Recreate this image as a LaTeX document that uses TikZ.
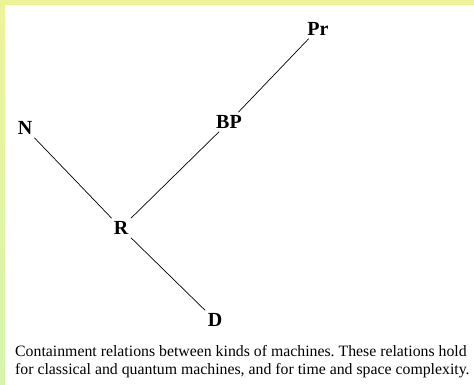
\documentclass[tikz,border=0pt]{standalone}
\usepackage{fontspec}
\setmainfont{Liberation Serif}
\frenchspacing
\definecolor{bandyellow}{RGB}{238,243,150}
\definecolor{bandgreen}{RGB}{212,246,170}
\begin{document}
\begin{tikzpicture}[x=1pt,y=1pt]
\useasboundingbox (0,0) rectangle (474,385);
\fill [bandyellow] (0,380) rectangle (474,385);
\shade [top color=bandyellow, bottom color=bandgreen] (0,0) rectangle (5,380);
\node [font=\fontsize{20}{24}\selectfont\bfseries, inner sep=3pt] (Pr) at (318,356) {Pr};
\node [font=\fontsize{20}{24}\selectfont\bfseries, inner sep=3pt] (BP) at (229,263) {BP};
\node [font=\fontsize{20}{24}\selectfont\bfseries, inner sep=3pt] (N) at (25,257) {N};
\node [font=\fontsize{20}{24}\selectfont\bfseries, inner sep=3pt] (R) at (121,157) {R};
\node [font=\fontsize{20}{24}\selectfont\bfseries, inner sep=3pt] (D) at (215,65) {D};
\draw [line width=0.7pt] (Pr) -- (BP);
\draw [line width=0.7pt] (BP) -- (R);
\draw [line width=0.7pt] (N) -- (R);
\draw [line width=0.7pt] (R) -- (D);
\node [anchor=base west, align=left, inner sep=0pt, font=\fontsize{15.8}{18}\selectfont] (caption) at (15,10)
  {Containment relations between kinds of machines. These relations hold\\
   for classical and quantum machines, and for time and space complexity.};
\end{tikzpicture}
\end{document}
